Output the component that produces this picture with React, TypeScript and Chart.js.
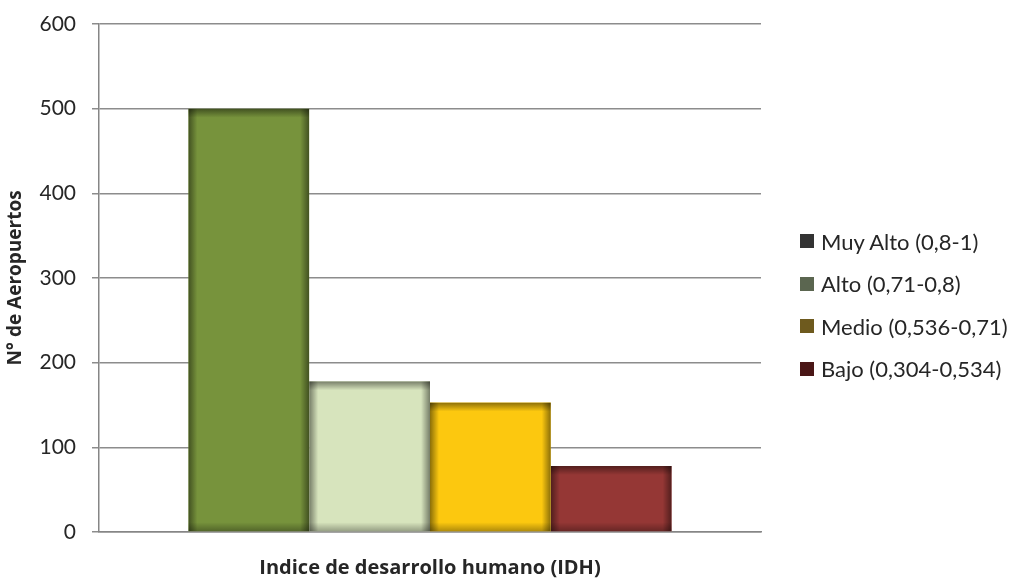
import React, { useEffect, useRef } from "react";
import { Chart, registerables } from "chart.js";

Chart.register(...registerables);

const categories = [""];
const seriesNames = [
  "Muy Alto (0,8-1)",
  "Alto (0,71-0,8)",
  "Medio (0,536-0,71)",
  "Bajo (0,304-0,534)",
];
const seriesValues = [500, 178, 153, 78];
const barColors = ["#77933C", "#D7E4BD", "#FCC80F", "#953735"];
const legendColors = ["#333333", "#5B6650", "#6E5A1E", "#4A1616"];
const yTickValues = [0, 100, 200, 300, 400, 500, 600];
const yAxisTitle = "N° de Aeropuertos";
const xAxisTitle = "Indice de desarrollo humano (IDH)";

const innerShadow = {
  id: "innerShadow",
  afterDatasetsDraw(chart: any) {
    const ctx = chart.ctx;
    chart.data.datasets.forEach((_: any, di: number) => {
      const meta = chart.getDatasetMeta(di);
      meta.data.forEach((bar: any) => {
        const p = bar.getProps(["x", "y", "base", "width"], true);
        const l = p.x - p.width / 2;
        const r = p.x + p.width / 2;
        const t = Math.min(p.y, p.base);
        const b = Math.max(p.y, p.base);
        const s = 9;
        ctx.save();
        ctx.beginPath();
        ctx.rect(l, t, r - l, b - t);
        ctx.clip();
        let g = ctx.createLinearGradient(l, 0, l + s, 0);
        g.addColorStop(0, "rgba(0,0,0,0.45)");
        g.addColorStop(1, "rgba(0,0,0,0)");
        ctx.fillStyle = g;
        ctx.fillRect(l, t, s, b - t);
        g = ctx.createLinearGradient(r, 0, r - s, 0);
        g.addColorStop(0, "rgba(0,0,0,0.45)");
        g.addColorStop(1, "rgba(0,0,0,0)");
        ctx.fillStyle = g;
        ctx.fillRect(r - s, t, s, b - t);
        g = ctx.createLinearGradient(0, t, 0, t + s);
        g.addColorStop(0, "rgba(0,0,0,0.45)");
        g.addColorStop(1, "rgba(0,0,0,0)");
        ctx.fillStyle = g;
        ctx.fillRect(l, t, r - l, s);
        g = ctx.createLinearGradient(0, b, 0, b - s);
        g.addColorStop(0, "rgba(0,0,0,0.3)");
        g.addColorStop(1, "rgba(0,0,0,0)");
        ctx.fillStyle = g;
        ctx.fillRect(l, b - s, r - l, s);
        ctx.restore();
      });
    });
  },
};

export default function App() {
  const ref = useRef<HTMLCanvasElement | null>(null);

  useEffect(() => {
    if (!ref.current) return;
    const chart = new Chart(ref.current, {
      type: "bar",
      data: {
        labels: categories,
        datasets: seriesNames.map((name, i) => ({
          label: name,
          data: [seriesValues[i]],
          backgroundColor: barColors[i],
          borderWidth: 0,
          categoryPercentage: 0.73,
          barPercentage: 1,
        })),
      },
      options: {
        animation: false,
        responsive: false,
        maintainAspectRatio: false,
        layout: { padding: { top: 24, right: 250, bottom: 0, left: 0 } },
        plugins: {
          legend: { display: false },
          tooltip: { enabled: false },
        },
        scales: {
          x: {
            ticks: { display: false },
            grid: { display: false, drawTicks: false },
            border: { color: "#868686", width: 1.5 },
            title: {
              display: true,
              text: xAxisTitle,
              color: "#262626",
              font: { family: "'Open Sans'", size: 20, weight: "bold" },
              padding: { top: 2, bottom: 2 },
            },
            afterFit(scale: any) {
              scale.height = 50;
            },
          },
          y: {
            min: 0,
            max: 600,
            afterBuildTicks(scale: any) {
              scale.ticks = yTickValues.map((v) => ({ value: v }));
            },
            ticks: {
              color: "#262626",
              padding: 16,
              font: { family: "Lato", size: 21 },
            },
            grid: {
              color: "#8C8C8C",
              lineWidth: 1.5,
              tickLength: 7,
              drawTicks: true,
            },
            border: { color: "#868686", width: 1.5 },
            title: {
              display: true,
              text: yAxisTitle,
              color: "#262626",
              font: { family: "'Open Sans'", size: 19, weight: "bold" },
              padding: { top: 4, bottom: 0 },
            },
            afterFit(scale: any) {
              scale.width = 99;
              scale.paddingTop = 0;
              scale.paddingBottom = 0;
            },
          },
        },
      },
      plugins: [innerShadow],
    });
    return () => chart.destroy();
  }, []);

  return (
    <div
      style={{
        position: "fixed",
        left: 0,
        top: 0,
        width: 1011,
        height: 582,
        background: "#fff",
      }}
    >
      <canvas ref={ref} width={1011} height={582} />
      <div
        style={{
          position: "absolute",
          left: 800,
          top: 220,
          fontFamily: "Lato",
          fontSize: 22,
          color: "#262626",
        }}
      >
        {seriesNames.map((name, i) => (
          <div
            key={name}
            style={{
              display: "flex",
              alignItems: "center",
              height: 42.5,
              whiteSpace: "nowrap",
            }}
          >
            <span
              style={{
                display: "inline-block",
                width: 14,
                height: 14,
                marginRight: 7,
                background: legendColors[i],
              }}
            />
            <span>{name}</span>
          </div>
        ))}
      </div>
    </div>
  );
}
